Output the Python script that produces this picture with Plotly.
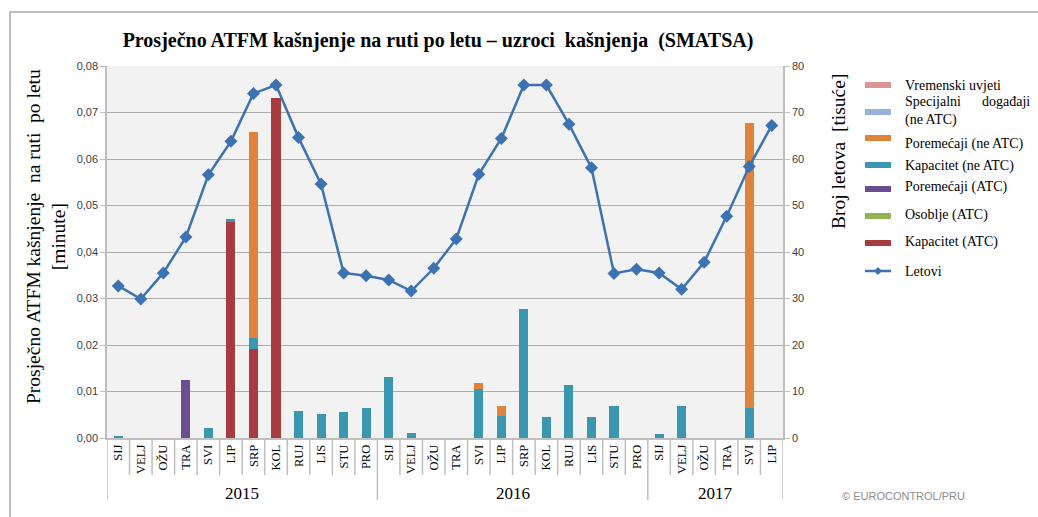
import plotly.graph_objects as go

# ---- data -------------------------------------------------------------
months = ["SIJ", "VELJ", "OŽU", "TRA", "SVI", "LIP", "SRP", "KOL", "RUJ", "LIS", "STU", "PRO",
          "SIJ", "VELJ", "OŽU", "TRA", "SVI", "LIP", "SRP", "KOL", "RUJ", "LIS", "STU", "PRO",
          "SIJ", "VELJ", "OŽU", "TRA", "SVI", "LIP"]
years = ["2015", "2016", "2017"]
months_per_year = [12, 12, 6]

# average en-route ATFM delay per flight [minutes], by cause
kapacitet_atc = [0, 0, 0, 0, 0, 0.0464, 0.0192, 0.0732, 0, 0, 0, 0,
                 0, 0, 0, 0, 0, 0, 0, 0, 0, 0, 0, 0,
                 0, 0, 0, 0, 0, 0]
osoblje_atc = [0] * 30
poremecaji_atc = [0, 0, 0, 0.0124, 0, 0, 0, 0, 0, 0, 0, 0,
                  0, 0, 0, 0, 0, 0, 0, 0, 0, 0, 0, 0,
                  0, 0, 0, 0, 0, 0]
kapacitet_ne_atc = [0.0003, 0, 0, 0, 0.0022, 0.0007, 0.0022, 0, 0.0058, 0.0052, 0.0056, 0.0065,
                    0.0131, 0.0011, 0, 0, 0.0106, 0.0047, 0.0278, 0.0045, 0.0113, 0.0045, 0.0068, 0,
                    0.0009, 0.0068, 0, 0, 0.0065, 0]
poremecaji_ne_atc = [0, 0, 0, 0, 0, 0, 0.0444, 0, 0, 0, 0, 0,
                     0, 0, 0, 0, 0.0012, 0.0021, 0, 0, 0, 0, 0, 0,
                     0, 0, 0, 0, 0.0613, 0]
specijalni = [0] * 30
vremenski = [0] * 30

# flights [thousands]
letovi = [32.7, 29.9, 35.5, 43.2, 56.6, 63.8, 74.1, 75.9, 64.6, 54.6, 35.5, 34.9,
          34.0, 31.6, 36.5, 42.8, 56.7, 64.4, 75.9, 75.9, 67.5, 58.1, 35.4, 36.3,
          35.5, 32.0, 37.8, 47.7, 58.4, 67.2]

names = ["Vremenski uvjeti", "Specijalni događaji (ne ATC)", "Poremećaji (ne ATC)",
         "Kapacitet (ne ATC)", "Poremećaji (ATC)", "Osoblje (ATC)", "Kapacitet (ATC)", "Letovi"]
colors = ["#D99594", "#95B3D7", "#E0833A", "#3A97AF", "#6B4E8F", "#93B254", "#A63C3F", "#3D72B2"]
bar_series = [vremenski, specijalni, poremecaji_ne_atc, kapacitet_ne_atc,
              poremecaji_atc, osoblje_atc, kapacitet_atc]

# ---- geometry helpers (pixel -> paper) --------------------------------
W, H = 1038, 517
L, R, T, B = 107, 783, 66, 438
PW, PH = R - L, B - T


def px(x):
    return (x - L) / PW


def py(y):
    return (B - y) / PH


SERIF = "Liberation Serif, Times New Roman, serif"
SANS = "Liberation Sans, Arial, sans-serif"

x = list(range(len(months)))
fig = go.Figure()

# stacked bars: bottom of the stack is the last legend entry
for name, color, vals in reversed(list(zip(names[:7], colors[:7], bar_series))):
    fig.add_trace(go.Bar(x=x, y=vals, name=name, marker=dict(color=color, line=dict(width=0)),
                         showlegend=False, yaxis="y"))

fig.add_trace(go.Scatter(x=x, y=letovi, name=names[7], yaxis="y2", mode="lines+markers",
                         line=dict(color=colors[7], width=2.5),
                         marker=dict(symbol="diamond", size=10, color=colors[7]),
                         showlegend=False))

shapes = []
annotations = []

# outer frame of the chart
shapes.append(dict(type="rect", xref="paper", yref="paper", x0=px(10), x1=px(1060),
                   y0=py(12), y1=py(540), line=dict(color="#BDBDBD", width=2), layer="below"))

# category separators under the x axis
year_bounds = [-0.5]
for n in months_per_year:
    year_bounds.append(year_bounds[-1] + n)
for i in range(len(months) + 1):
    xb = i - 0.5
    long_line = xb in year_bounds
    shapes.append(dict(type="line", xref="x", yref="paper", x0=xb, x1=xb, y0=0,
                       y1=py(500) if long_line else py(475),
                       line=dict(color="#BFBFBF", width=1.5)))

# year labels
for k, yr in enumerate(years):
    centre = (year_bounds[k] + year_bounds[k + 1]) / 2
    annotations.append(dict(text=yr, x=centre, xref="x", y=py(493), yref="paper",
                            xanchor="center", yanchor="middle",
                            showarrow=False, font=dict(family=SERIF, size=17, color="#000")))

# axis titles
annotations.append(dict(text="Prosječno ATFM kašnjenje&nbsp; na ruti&nbsp; po letu<br>[minute]",
                        x=px(46), y=py(237), xref="paper", yref="paper", textangle=-90,
                        xanchor="center", yanchor="middle",
                        showarrow=False, font=dict(family=SERIF, size=19.5, color="#000")))
annotations.append(dict(text="Broj letova&nbsp; [tisuće]", x=px(838), y=py(152),
                        xref="paper", yref="paper", textangle=-90, showarrow=False,
                        xanchor="center", yanchor="middle",
                        font=dict(family=SERIF, size=19.5, color="#000")))

# legend drawn by hand
legend_rows = [
    (names[0], 85, 86),
    ("Specijalni&nbsp;&nbsp;&nbsp;&nbsp;&nbsp;&nbsp;događaji<br>(ne ATC)", 112, 111),
    (names[2], 138, 144),
    (names[3], 165, 166),
    (names[4], 189, 187),
    (names[5], 216, 215),
    (names[6], 243, 242),
    (names[7], 271, 271),
]
for k, (label, sy, ty) in enumerate(legend_rows):
    if k < 7:
        shapes.append(dict(type="rect", xref="paper", yref="paper", x0=px(865), x1=px(891),
                           y0=py(sy - 3), y1=py(sy + 3), fillcolor=colors[k],
                           line=dict(width=0)))
    else:
        shapes.append(dict(type="line", xref="paper", yref="paper", x0=px(865), x1=px(891),
                           y0=py(sy), y1=py(sy), line=dict(color=colors[k], width=2.5)))
        shapes.append(dict(type="path", xref="paper", yref="paper",
                           path="M {a},{b} L {c},{d} L {a},{e} L {f},{d} Z".format(
                               a=px(878), b=py(sy - 4), c=px(882), d=py(sy),
                               e=py(sy + 4), f=px(874)),
                           fillcolor=colors[k], line=dict(width=0)))
    annotations.append(dict(text=label, x=px(903), y=py(ty), xref="paper", yref="paper",
                            xanchor="left", yanchor="middle", align="left", showarrow=False,
                            font=dict(family=SERIF, size=14, color="#000")))

annotations.append(dict(text="© EUROCONTROL/PRU", x=px(840), y=py(496), xref="paper",
                        yref="paper", xanchor="left", yanchor="middle", showarrow=False,
                        font=dict(family=SANS, size=11, color="#8C8C8C")))

fig.update_layout(
    width=W, height=H,
    margin=dict(l=L, r=W - R, t=T, b=H - B, pad=0),
    paper_bgcolor="white", plot_bgcolor="#F2F2F2",
    separators=", ",
    barmode="stack", bargap=0.6,
    title=dict(text="<b>Prosječno ATFM kašnjenje na ruti po letu – uzroci&nbsp; kašnjenja&nbsp; (SMATSA)</b>",
               x=438 / W, y=1 - 40 / H, xanchor="center", yanchor="middle",
               font=dict(family=SERIF, size=20, color="#000")),
    xaxis=dict(tickmode="array", tickvals=x, ticktext=months, tickangle=-90,
               range=[-0.5, len(months) - 0.5], showgrid=False, zeroline=False,
               showline=True, linecolor="#BFBFBF", linewidth=1.5, ticks="",
               tickfont=dict(family=SERIF, size=12.5, color="#000")),
    yaxis=dict(range=[0, 0.08], dtick=0.01, tickformat=".2f", showgrid=True,
               gridcolor="#ABABAB", gridwidth=1.2, zeroline=False, showline=True,
               linecolor="#BFBFBF", linewidth=1.5, ticks="outside", ticklen=5,
               tickcolor="#BFBFBF", tickfont=dict(family=SANS, size=11, color="#404040")),
    yaxis2=dict(range=[0, 80], dtick=10, overlaying="y", side="right", showgrid=False,
                zeroline=False, showline=True, linecolor="#BFBFBF", linewidth=1.5,
                ticks="outside", ticklen=5, tickcolor="#BFBFBF",
                tickfont=dict(family=SANS, size=11, color="#404040")),
    shapes=shapes,
    annotations=annotations,
)

fig.write_html("out.html")
